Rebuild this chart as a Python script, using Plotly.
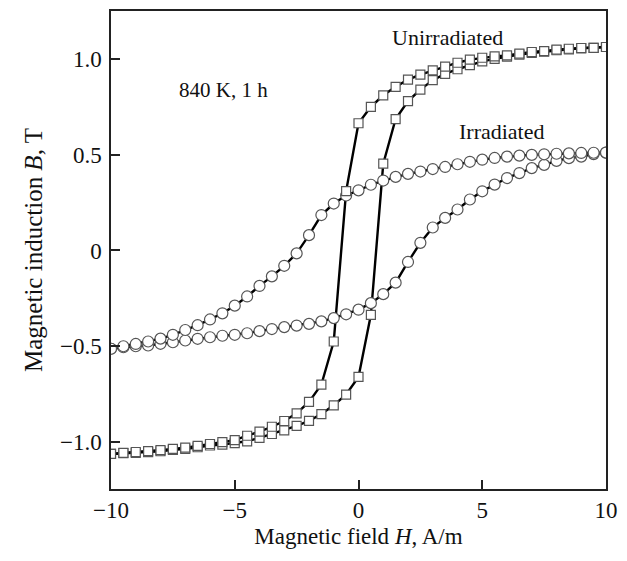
import plotly.graph_objects as go

H = [-10, -9.5, -9, -8.5, -8, -7.5, -7, -6.5, -6, -5.5, -5, -4.5, -4, -3.5, -3, -2.5, -2, -1.5, -1, -0.5,
     0, 0.5, 1, 1.5, 2, 2.5, 3, 3.5, 4, 4.5, 5, 5.5, 6, 6.5, 7, 7.5, 8, 8.5, 9, 9.5, 10]

# Unirradiated (squares)
unirr_up = [-1.062, -1.058, -1.057, -1.053, -1.048, -1.041, -1.036, -1.027, -1.018, -1.013, -1.006,
            -0.996, -0.978, -0.958, -0.939, -0.916, -0.889, -0.854, -0.808, -0.752,
            -0.66, -0.336, 0.453, 0.686, 0.78, 0.84, 0.889, 0.922, 0.946, 0.967, 0.987,
            1.0, 1.012, 1.022, 1.031, 1.038, 1.045, 1.05, 1.055, 1.058, 1.062]
unirr_down = [-1.062, -1.056, -1.052, -1.047, -1.042, -1.036, -1.029, -1.02, -1.01, -1.0, -0.99,
              -0.967, -0.946, -0.92, -0.89, -0.85, -0.79, -0.70, -0.475, 0.31,
              0.664, 0.75, 0.81, 0.854, 0.892, 0.918, 0.94, 0.96, 0.98, 0.996, 1.006,
              1.013, 1.018, 1.027, 1.036, 1.041, 1.048, 1.053, 1.057, 1.058, 1.062]

# Irradiated (circles)
irr_up = [-0.513, -0.505, -0.50, -0.496, -0.487, -0.479, -0.47, -0.461, -0.453, -0.445, -0.44,
          -0.432, -0.421, -0.41, -0.40, -0.392, -0.383, -0.37, -0.353, -0.333,
          -0.309, -0.275, -0.228, -0.168, -0.06, 0.04, 0.12, 0.17, 0.214, 0.266, 0.309,
          0.344, 0.378, 0.404, 0.43, 0.447, 0.468, 0.482, 0.49, 0.503, 0.511]
irr_down = [-0.513, -0.50, -0.488, -0.475, -0.46, -0.44, -0.415, -0.39, -0.36, -0.328, -0.288,
            -0.24, -0.185, -0.135, -0.08, -0.015, 0.08, 0.185, 0.245, 0.287,
            0.314, 0.343, 0.365, 0.384, 0.40, 0.412, 0.425, 0.436, 0.45, 0.463, 0.474,
            0.483, 0.49, 0.495, 0.499, 0.502, 0.505, 0.507, 0.509, 0.51, 0.511]

x_ticks = [-10, -5, 0, 5, 10]
x_tick_text = ["\u221210", "\u22125", "0", "5", "10"]
y_ticks = [-1.0, -0.5, 0, 0.5, 1.0]
y_tick_text = ["\u22121.0", "\u22120.5", "0", "0.5", "1.0"]

FONT = "Liberation Serif, Times New Roman, serif"
line_style = dict(color="black", width=2.4)

fig = go.Figure()
for ys in [irr_up, irr_down, unirr_up, unirr_down]:
    fig.add_trace(go.Scatter(x=H, y=ys, mode="lines", line=line_style,
                             showlegend=False, hoverinfo="skip"))
for ys, sym, size in [(irr_up, "circle", 11), (irr_down, "circle", 11),
                      (unirr_up, "square", 9), (unirr_down, "square", 9)]:
    fig.add_trace(go.Scatter(x=H, y=ys, mode="markers",
                             marker=dict(symbol=sym, size=size, color="white",
                                         line=dict(color="#555555", width=1.2)),
                             showlegend=False))

fig.add_annotation(x=3.58, y=1.114, text="Unirradiated", showarrow=False,
                   font=dict(family=FONT, size=22, color="#111"))
fig.add_annotation(x=5.79, y=0.62, text="Irradiated", showarrow=False,
                   font=dict(family=FONT, size=22, color="#111"))
fig.add_annotation(x=-5.47, y=0.84, text="840 K, 1 h", showarrow=False,
                   font=dict(family=FONT, size=21, color="#111"))

axis_common = dict(showgrid=False, zeroline=False, showline=True, linecolor="#222",
                   linewidth=1.5, mirror=True, ticks="inside", ticklen=9, tickwidth=1.5,
                   tickcolor="#222", tickfont=dict(family=FONT, size=23, color="#111"))

# page body has an 8px margin; size the figure so it fits the 627x561 window
fig.update_layout(
    width=619, height=553,
    margin=dict(l=103, r=21, t=1, b=72),
    paper_bgcolor="white", plot_bgcolor="white",
    font=dict(family=FONT, color="#111"),
    xaxis=dict(range=[-10, 10], tickvals=x_ticks, ticktext=x_tick_text,
               title=dict(text="Magnetic field <i>H</i>, A/m", font=dict(family=FONT, size=23),
                          standoff=6),
               **axis_common),
    yaxis=dict(range=[-1.245, 1.25], tickvals=y_ticks, ticktext=y_tick_text,
               ticklabelstandoff=3,
               title=dict(text="Magnetic induction <i>B</i>, T", font=dict(family=FONT, size=25),
                          standoff=10),
               **axis_common),
)

fig.write_html("out.html")
